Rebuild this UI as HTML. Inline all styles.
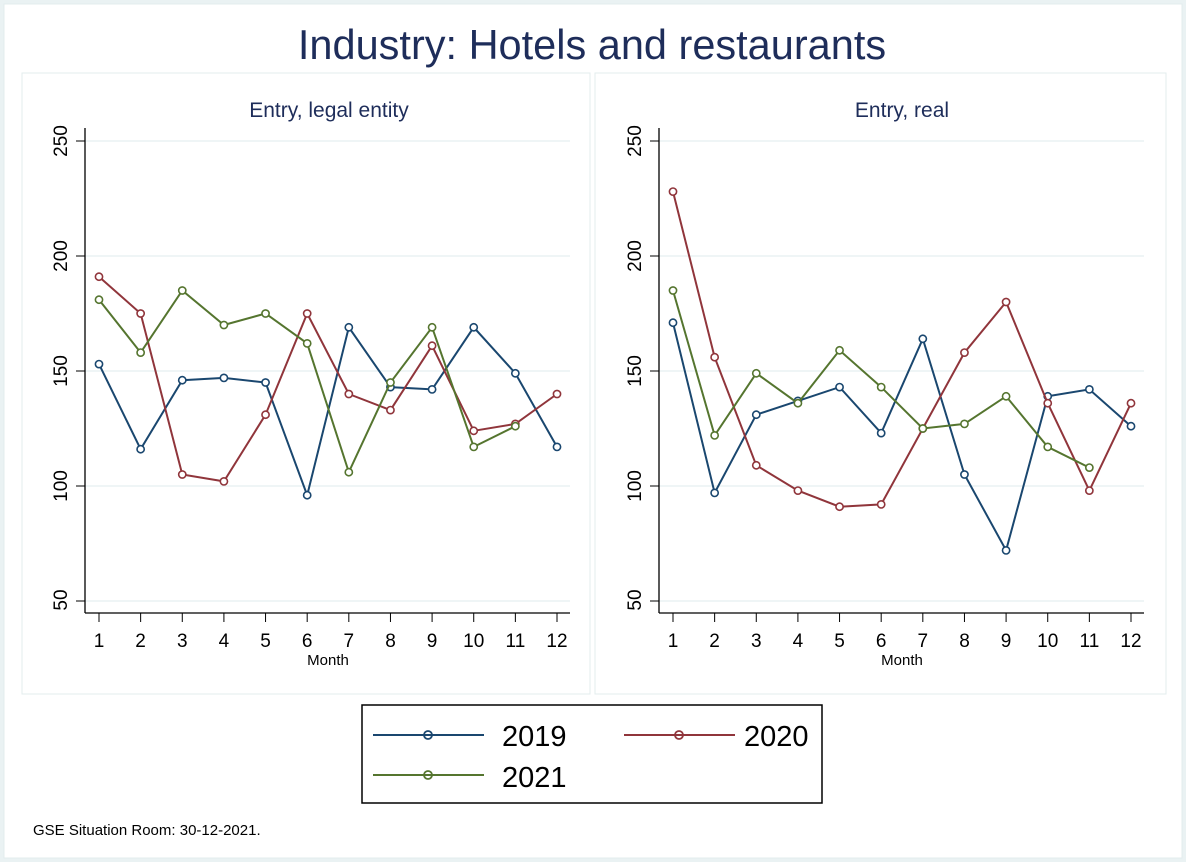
<!DOCTYPE html>
<html><head><meta charset="utf-8"><style>
html,body{margin:0;padding:0;background:#eaf2f3;}
svg{display:block;font-family:"Liberation Sans",sans-serif;}
</style></head><body>
<svg id="s" width="1186" height="862" viewBox="0 0 1186 862">
<rect x="0" y="0" width="1186" height="862" fill="#eaf2f3"/>
<rect x="4" y="4" width="1178" height="854" fill="#fff" stroke="#e3ecee"/>
<text x="592" y="59" text-anchor="middle" font-size="41.5" fill="#1e2d5a">Industry: Hotels and restaurants</text>
<rect x="22" y="73" width="568" height="621" fill="#fff" stroke="#e3ecee"/>
<rect x="595" y="73" width="571" height="621" fill="#fff" stroke="#e3ecee"/>
<text x="329" y="117" text-anchor="middle" font-size="21" fill="#1e2d5a">Entry, legal entity</text>
<text x="902" y="117" text-anchor="middle" font-size="21" fill="#1e2d5a">Entry, real</text>
<g id="axes"></g>
<g id="series"></g>
<rect x="362" y="705" width="460" height="98" fill="#fff" stroke="#000" stroke-width="1.5"/>
<line x1="373" y1="735" x2="484" y2="735" stroke="#1a476f" stroke-width="2"/><circle cx="428" cy="735" r="4" fill="none" stroke="#1a476f" stroke-width="1.8"/>
<text x="502" y="746" font-size="29">2019</text>
<line x1="624" y1="735" x2="735" y2="735" stroke="#90353b" stroke-width="2"/><circle cx="679" cy="735" r="4" fill="none" stroke="#90353b" stroke-width="1.8"/>
<text x="744" y="746" font-size="29">2020</text>
<line x1="373" y1="775" x2="484" y2="775" stroke="#55752f" stroke-width="2"/><circle cx="428" cy="775" r="4" fill="none" stroke="#55752f" stroke-width="1.8"/>
<text x="502" y="787" font-size="29">2021</text>
<text x="33" y="835" font-size="15">GSE Situation Room: 30-12-2021.</text>
<g font-size="19" text-anchor="middle">
<text x="60" y="600" transform="rotate(-90 60 600)" dy="7">50</text>
<text x="60" y="486" transform="rotate(-90 60 486)" dy="7">100</text>
<text x="60" y="371" transform="rotate(-90 60 371)" dy="7">150</text>
<text x="60" y="256" transform="rotate(-90 60 256)" dy="7">200</text>
<text x="60" y="141" transform="rotate(-90 60 141)" dy="7">250</text>
<text x="634" y="600" transform="rotate(-90 634 600)" dy="7">50</text>
<text x="634" y="486" transform="rotate(-90 634 486)" dy="7">100</text>
<text x="634" y="371" transform="rotate(-90 634 371)" dy="7">150</text>
<text x="634" y="256" transform="rotate(-90 634 256)" dy="7">200</text>
<text x="634" y="141" transform="rotate(-90 634 141)" dy="7">250</text>
</g>
<g font-size="19" text-anchor="middle" id="xl">
<text x="99.0" y="647">1</text><text x="140.6" y="647">2</text><text x="182.3" y="647">3</text><text x="223.9" y="647">4</text><text x="265.5" y="647">5</text><text x="307.2" y="647">6</text><text x="348.8" y="647">7</text><text x="390.5" y="647">8</text><text x="432.1" y="647">9</text><text x="473.7" y="647">10</text><text x="515.4" y="647">11</text><text x="557.0" y="647">12</text>
<text x="673.0" y="647">1</text><text x="714.6" y="647">2</text><text x="756.3" y="647">3</text><text x="797.9" y="647">4</text><text x="839.5" y="647">5</text><text x="881.2" y="647">6</text><text x="922.8" y="647">7</text><text x="964.5" y="647">8</text><text x="1006.1" y="647">9</text><text x="1047.7" y="647">10</text><text x="1089.4" y="647">11</text><text x="1131.0" y="647">12</text>
</g>
<text x="328" y="665" font-size="15" text-anchor="middle">Month</text>
<text x="902" y="665" font-size="15" text-anchor="middle">Month</text>
</svg>
<script>
const NS="http://www.w3.org/2000/svg";
function el(p,t,a){const e=document.createElementNS(NS,t);for(const k in a)e.setAttribute(k,a[k]);p.appendChild(e);return e;}
const ax=document.getElementById('axes'),se=document.getElementById('series');
const Y=v=>141+(250-v)*2.3;
const panels=[{x0:85,x1:570,m1:99},{x0:659,x1:1144,m1:673}];
const step=458/11;
panels.forEach(p=>{
 [50,100,150,200,250].forEach(v=>{el(ax,'line',{x1:p.x0,x2:p.x1,y1:Y(v),y2:Y(v),stroke:'#eaf2f3','stroke-width':1.5});
  el(ax,'line',{x1:p.x0-9,x2:p.x0,y1:Y(v),y2:Y(v),stroke:'#000','stroke-width':1});});
 el(ax,'line',{x1:p.x0,x2:p.x0,y1:128,y2:613,stroke:'#000','stroke-width':1.3});
 el(ax,'line',{x1:p.x0,x2:p.x1,y1:613,y2:613,stroke:'#000','stroke-width':1.3});
 for(let i=0;i<12;i++){const x=p.m1+i*step;el(ax,'line',{x1:x,x2:x,y1:613,y2:622,stroke:'#000','stroke-width':1});}
});
const data=[
 [0,'#1a476f',[153,116,146,147,145,96,169,143,142,169,149,117]],
 [0,'#90353b',[191,175,105,102,131,175,140,133,161,124,127,140]],
 [0,'#55752f',[181,158,185,170,175,162,106,145,169,117,126]],
 [1,'#1a476f',[171,97,131,137,143,123,164,105,72,139,142,126]],
 [1,'#90353b',[228,156,109,98,91,92,125,158,180,136,98,136]],
 [1,'#55752f',[185,122,149,136,159,143,125,127,139,117,108]]];
data.forEach(([pi,c,vals])=>{
 const p=panels[pi];
 const pts=vals.map((v,i)=>[p.m1+i*step,Y(v)]);
 el(se,'polyline',{points:pts.map(q=>q.join(',')).join(' '),fill:'none',stroke:c,'stroke-width':2});
 pts.forEach(q=>el(se,'circle',{cx:q[0],cy:q[1],r:3.6,fill:'#fff',stroke:c,'stroke-width':1.6}));
});
</script>
</body></html>
